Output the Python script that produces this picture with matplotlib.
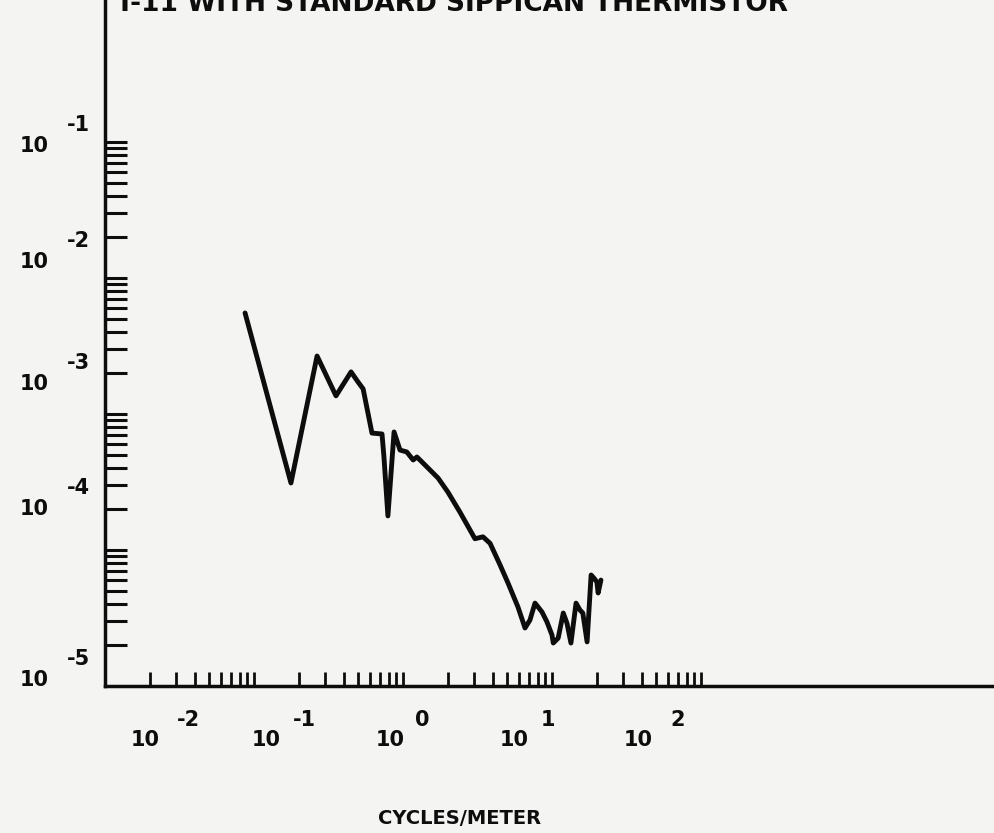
import numpy as np
import matplotlib
matplotlib.use("Agg")
import matplotlib.pyplot as plt
from matplotlib.ticker import FixedLocator, NullFormatter

# spectrum (cycles/meter vs spectral level)
freq = [0.0871, 0.177, 0.265, 0.355, 0.448, 0.499, 0.540, 0.619, 0.723, 0.745,
        0.792, 0.871, 0.955, 1.06, 1.17, 1.24, 1.36, 1.52, 1.72, 2.00,
        2.41, 3.04, 3.44, 3.84, 4.48, 5.07, 5.91, 6.59, 7.11, 7.69,
        8.57, 9.25, 10.0, 10.2, 11.0, 11.9, 12.6, 13.4, 14.5, 15.4,
        16.1, 17.2, 18.3, 19.1, 20.0, 20.4, 21.3]
spec = [5.53e-3, 3.11e-4, 2.67e-3, 1.36e-3, 2.04e-3, 1.72e-3, 1.53e-3, 7.24e-4, 7.13e-4, 4.83e-4,
        1.78e-4, 7.38e-4, 5.43e-4, 5.26e-4, 4.59e-4, 4.83e-4, 4.37e-4, 3.87e-4, 3.38e-4, 2.67e-4,
        1.90e-4, 1.21e-4, 1.25e-4, 1.12e-4, 7.77e-5, 5.71e-5, 3.81e-5, 2.67e-5, 3.05e-5, 4.07e-5,
        3.50e-5, 2.96e-5, 2.37e-5, 2.07e-5, 2.25e-5, 3.44e-5, 2.90e-5, 2.07e-5, 4.07e-5, 3.62e-5,
        3.44e-5, 2.11e-5, 6.55e-5, 6.22e-5, 5.82e-5, 4.83e-5, 6.01e-5]

title = "T-11 WITH STANDARD SIPPICAN THERMISTOR"
xlabel = "CYCLES/METER"
x_exps = ["-2", "-1", "0", "1", "2"]
y_exps = ["-1", "-2", "-3", "-4", "-5"]

W, H = 995, 833
ink = "#0d0d0d"
plt.rcParams["font.family"] = ["DejaVu Sans"]

fig = plt.figure(figsize=(W / 100, H / 100), dpi=100, facecolor="#f4f4f2")
ax = fig.add_axes([105 / W, 1 - 686 / H, 890 / W, 686 / H])
ax.set_facecolor("none")

ax.plot(freq, spec, color=ink, lw=3.5, solid_joinstyle="round", solid_capstyle="round")

ax.set_xscale("log")
ax.set_yscale("log")
ax.set_xlim(1e-2, 10 ** (-2 + 890 / 149))
ax.set_ylim(1e-5, 10 ** (-5 + 686 / 136))

ax.xaxis.set_major_locator(FixedLocator([1e-1, 1e0, 1e1, 1e2]))
ax.xaxis.set_minor_locator(FixedLocator([s * 10.0 ** d for d in range(-2, 2) for s in range(2, 10)]))
ax.yaxis.set_major_locator(FixedLocator([1e-4, 1e-3, 1e-2, 1e-1]))
ax.yaxis.set_minor_locator(FixedLocator([s * 10.0 ** d for d in range(-5, -1) for s in range(2, 10)]))
for axis in (ax.xaxis, ax.yaxis):
    axis.set_major_formatter(NullFormatter())
    axis.set_minor_formatter(NullFormatter())

ax.tick_params(axis="x", which="both", direction="in", length=10, width=2.0, color=ink)
ax.tick_params(axis="y", which="both", direction="in", length=16, width=2.2, color=ink)

for side in ["top", "right"]:
    ax.spines[side].set_visible(False)
for side in ["left", "bottom"]:
    ax.spines[side].set_linewidth(2.5)
    ax.spines[side].set_color(ink)

def px_text(x, y, s, size=15, **kw):
    fig.text(x / W, 1 - y / H, s, size=size, weight="heavy", color=ink,
             ha="center", va="center", **kw)

# tick labels, drawn like the old plotter: "10" with a full-size raised exponent
x_base = [145, 266, 390, 514, 638]
x_sup = [188, 304, 422, 548, 678]
for bx, sx, e in zip(x_base, x_sup, x_exps):
    px_text(bx, 740, "10")
    px_text(sx, 720, e)

y_base = [146, 262, 384, 509, 680]
for by, e in zip(y_base, y_exps):
    px_text(34, by, "10")
    px_text(78, by - 21, e)

px_text(460, 818, xlabel, size=14)
fig.text(452 / W, 1 - 11 / H, title, size=19, weight="heavy", color=ink,
         ha="center", va="baseline")

fig.savefig("out.png", dpi=100, facecolor=fig.get_facecolor())
